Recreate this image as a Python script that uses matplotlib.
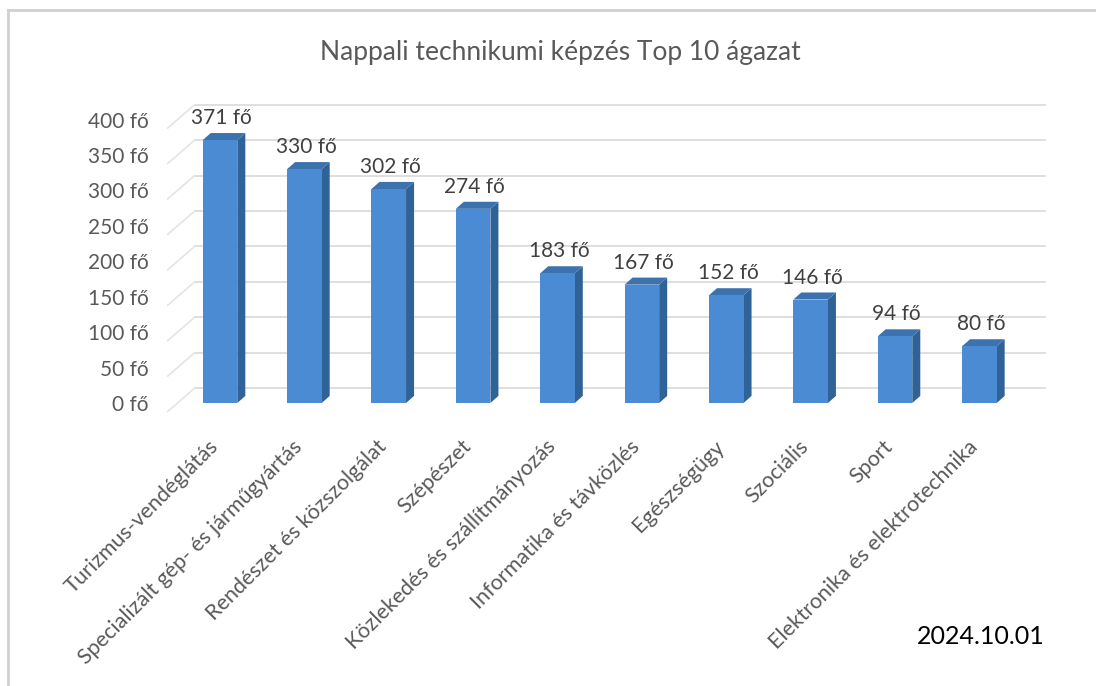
import numpy as np
import matplotlib.pyplot as plt
from matplotlib.patches import Polygon
from matplotlib.lines import Line2D
import matplotlib.transforms as mtransforms

plt.rcParams['font.family'] = ['Lato', 'DejaVu Sans']

categories = ["Turizmus-vendéglátás", "Specializált gép- és járműgyártás",
              "Rendészet és közszolgálat", "Szépészet",
              "Közlekedés és szállítmányozás", "Informatika és távközlés",
              "Egészségügy", "Szociális", "Sport", "Elektronika és elektrotechnika"]
values = [371, 330, 302, 274, 183, 167, 152, 146, 94, 80]
yticks = [0, 50, 100, 150, 200, 250, 300, 350, 400]
title = "Nappali technikumi képzés Top 10 ágazat"
date_label = "2024.10.01"

front = "#4a8bd3"
side = "#2f6296"
top = "#3c72ad"
grid = "#d9d9d9"
txt = "#595959"

fig = plt.figure(figsize=(10.96, 6.86), dpi=100)
ax = fig.add_axes([0.143, 0.3867, 0.816, 0.470])
ax.set_xlim(-0.75, 9.85)
ax.set_ylim(-25, 430)
for s in ax.spines.values():
    s.set_visible(False)

# 3d-ish geometry in data units
bw = 0.41       # bar width
ddx, ddy = 0.095, 10   # bar depth offset
wall_dy = 21   # back wall offset

# back wall gridlines + slanted side-wall lines
for v in yticks:
    ax.plot([-0.3, 9.78], [v + wall_dy, v + wall_dy], color=grid, lw=1.2, zorder=1)
    ax.plot([-0.62, -0.3], [v - 12, v + wall_dy], color="#e4e4e4", lw=1.2, zorder=1)

x = np.arange(len(values))
for xi, v in zip(x, values):
    l, r = xi - bw / 2, xi + bw / 2
    ax.add_patch(Polygon([[r, 0], [r + ddx, ddy], [r + ddx, v + ddy], [r, v]],
                         closed=True, fc=side, ec="none", zorder=3))
    ax.add_patch(Polygon([[l, v], [r, v], [r + ddx, v + ddy], [l + ddx, v + ddy]],
                         closed=True, fc=top, ec="none", zorder=3))
    ax.add_patch(Polygon([[l, 0], [r, 0], [r, v], [l, v]],
                         closed=True, fc=front, ec="none", zorder=4))
    ax.text(xi + 0.02, v + ddy + 7, f"{v} fő", ha="center", va="bottom",
            fontsize=15, color="#404040", zorder=5)

ax.set_yticks(yticks)
ax.set_yticklabels([f"{v} fő" for v in yticks], fontsize=15, color=txt)
off = mtransforms.ScaledTranslation(0, -9 / 100, fig.dpi_scale_trans)
for lab in ax.get_yticklabels():
    lab.set_transform(lab.get_transform() + off)
ax.tick_params(axis="y", length=0, pad=6)

ax.set_xticks(x)
ax.set_xticklabels(categories, rotation=45, ha="right", va="center",
                   rotation_mode="anchor", fontsize=15.5, color=txt)
ax.tick_params(axis="x", length=0, pad=12)
xoff = mtransforms.ScaledTranslation(-5 / 100, -6 / 100, fig.dpi_scale_trans)
for lab in ax.get_xticklabels():
    lab.set_transform(lab.get_transform() + xoff)

fig.text(0.511, 0.924, title, ha="center", va="center", fontsize=19, color=txt)
fig.text(0.953, 0.072, date_label, ha="right", va="center", fontsize=18, color="black")

# outer chart frame
fig.add_artist(Line2D([0.0075, 0.0075], [0.0, 0.986], transform=fig.transFigure,
                      color="#d0d0d0", lw=2))
fig.add_artist(Line2D([0.0075, 1.0], [0.986, 0.986], transform=fig.transFigure,
                      color="#d0d0d0", lw=2))

fig.savefig("out.png", dpi=100)
